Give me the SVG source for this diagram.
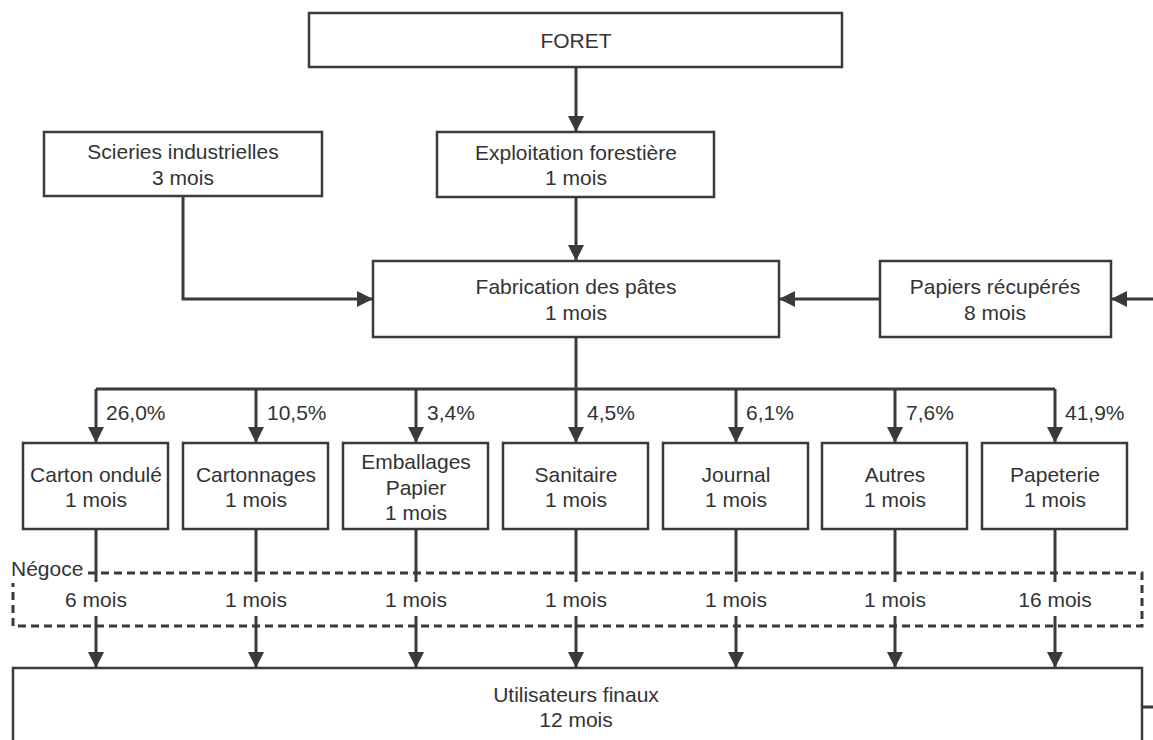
<svg xmlns="http://www.w3.org/2000/svg" width="1153" height="740" viewBox="0 0 1153 740">
<defs>
<style>
.box{fill:#fff;stroke:#3a3a3e;stroke-width:2.5}
.t{font-family:"Liberation Sans",Arial,sans-serif;font-size:21px;fill:#333;text-anchor:middle}
.l{font-family:"Liberation Sans",Arial,sans-serif;font-size:21px;fill:#333}
.c{fill:none;stroke:#3a3a3e;stroke-width:3}
.d{fill:none;stroke:#3a3a3e;stroke-width:3;stroke-dasharray:8 5}
</style>
<marker id="ah" viewBox="0 0 16 16" refX="16" refY="8" markerWidth="16" markerHeight="16" markerUnits="userSpaceOnUse" orient="auto">
<path d="M0,0 L16,8 L0,16 Z" fill="#3a3a3e"/>
</marker>
</defs>
<rect width="1153" height="740" fill="#fff"/>

<g id="negoce">
<path class="d" d="M88,573 H1142 V626 H13 V583"/>
<text class="l" x="11" y="576">Négoce</text>
</g>

<g id="connectors">
<path class="c" d="M576,67 V132" marker-end="url(#ah)"/>
<path class="c" d="M576,197 V261" marker-end="url(#ah)"/>
<path class="c" d="M183,196 V299 H373" marker-end="url(#ah)"/>
<path class="c" d="M880,299 H779" marker-end="url(#ah)"/>
<path class="c" d="M1153,299 H1111" marker-end="url(#ah)"/>
<path class="c" d="M576,337 V443" marker-end="url(#ah)"/>
<path class="c" d="M96,389 H1055"/>
<path class="c" d="M96,389 V443" marker-end="url(#ah)"/>
<path class="c" d="M256,389 V443" marker-end="url(#ah)"/>
<path class="c" d="M416,389 V443" marker-end="url(#ah)"/>
<path class="c" d="M736,389 V443" marker-end="url(#ah)"/>
<path class="c" d="M895,389 V443" marker-end="url(#ah)"/>
<path class="c" d="M1055,389 V443" marker-end="url(#ah)"/>
<path class="c" d="M96,529 V582 M256,529 V582 M416,529 V582 M576,529 V582 M736,529 V582 M895,529 V582 M1055,529 V582"/>
<path class="c" d="M96,616 V668" marker-end="url(#ah)"/>
<path class="c" d="M256,616 V668" marker-end="url(#ah)"/>
<path class="c" d="M416,616 V668" marker-end="url(#ah)"/>
<path class="c" d="M576,616 V668" marker-end="url(#ah)"/>
<path class="c" d="M736,616 V668" marker-end="url(#ah)"/>
<path class="c" d="M895,616 V668" marker-end="url(#ah)"/>
<path class="c" d="M1055,616 V668" marker-end="url(#ah)"/>
<path class="c" d="M1142,707 H1153"/>
<text class="l" x="106" y="420">26,0%</text>
<text class="l" x="267" y="420">10,5%</text>
<text class="l" x="427" y="420">3,4%</text>
<text class="l" x="587" y="420">4,5%</text>
<text class="l" x="746" y="420">6,1%</text>
<text class="l" x="906" y="420">7,6%</text>
<text class="l" x="1065" y="420">41,9%</text>
<text class="t" x="96" y="607">6 mois</text>
<text class="t" x="256" y="607">1 mois</text>
<text class="t" x="416" y="607">1 mois</text>
<text class="t" x="576" y="607">1 mois</text>
<text class="t" x="736" y="607">1 mois</text>
<text class="t" x="895" y="607">1 mois</text>
<text class="t" x="1055" y="607">16 mois</text>
</g>

<g id="foret">
<rect class="box" x="309" y="13" width="533" height="54"/>
<text class="t" x="576" y="48">FORET</text>
</g>
<g id="scieries">
<rect class="box" x="44" y="132" width="278" height="64"/>
<text class="t" x="183" y="159">Scieries industrielles</text>
<text class="t" x="183" y="185">3 mois</text>
</g>
<g id="exploitation">
<rect class="box" x="437" y="132" width="277" height="65"/>
<text class="t" x="576" y="160">Exploitation forestière</text>
<text class="t" x="576" y="185">1 mois</text>
</g>
<g id="fabrication">
<rect class="box" x="373" y="261" width="406" height="76"/>
<text class="t" x="576" y="294">Fabrication des pâtes</text>
<text class="t" x="576" y="320">1 mois</text>
</g>
<g id="papiers">
<rect class="box" x="880" y="261" width="231" height="76"/>
<text class="t" x="995" y="294">Papiers récupérés</text>
<text class="t" x="995" y="320">8 mois</text>
</g>

<g id="carton">
<rect class="box" x="23" y="443" width="145" height="86"/>
<text class="t" x="96" y="482">Carton ondulé</text>
<text class="t" x="96" y="507">1 mois</text>
</g>
<g id="cartonnages">
<rect class="box" x="183" y="443" width="145" height="86"/>
<text class="t" x="256" y="482">Cartonnages</text>
<text class="t" x="256" y="507">1 mois</text>
</g>
<g id="emballages">
<rect class="box" x="343" y="443" width="145" height="86"/>
<text class="t" x="416" y="469">Emballages</text>
<text class="t" x="416" y="495">Papier</text>
<text class="t" x="416" y="520">1 mois</text>
</g>
<g id="sanitaire">
<rect class="box" x="503" y="443" width="145" height="86"/>
<text class="t" x="576" y="482">Sanitaire</text>
<text class="t" x="576" y="507">1 mois</text>
</g>
<g id="journal">
<rect class="box" x="663" y="443" width="145" height="86"/>
<text class="t" x="736" y="482">Journal</text>
<text class="t" x="736" y="507">1 mois</text>
</g>
<g id="autres">
<rect class="box" x="822" y="443" width="145" height="86"/>
<text class="t" x="895" y="482">Autres</text>
<text class="t" x="895" y="507">1 mois</text>
</g>
<g id="papeterie">
<rect class="box" x="982" y="443" width="145" height="86"/>
<text class="t" x="1055" y="482">Papeterie</text>
<text class="t" x="1055" y="507">1 mois</text>
</g>

<g id="utilisateurs">
<path class="box" d="M13,745 V668 H1142 V745"/>
<text class="t" x="576" y="702">Utilisateurs finaux</text>
<text class="t" x="576" y="727">12 mois</text>
</g>
</svg>
